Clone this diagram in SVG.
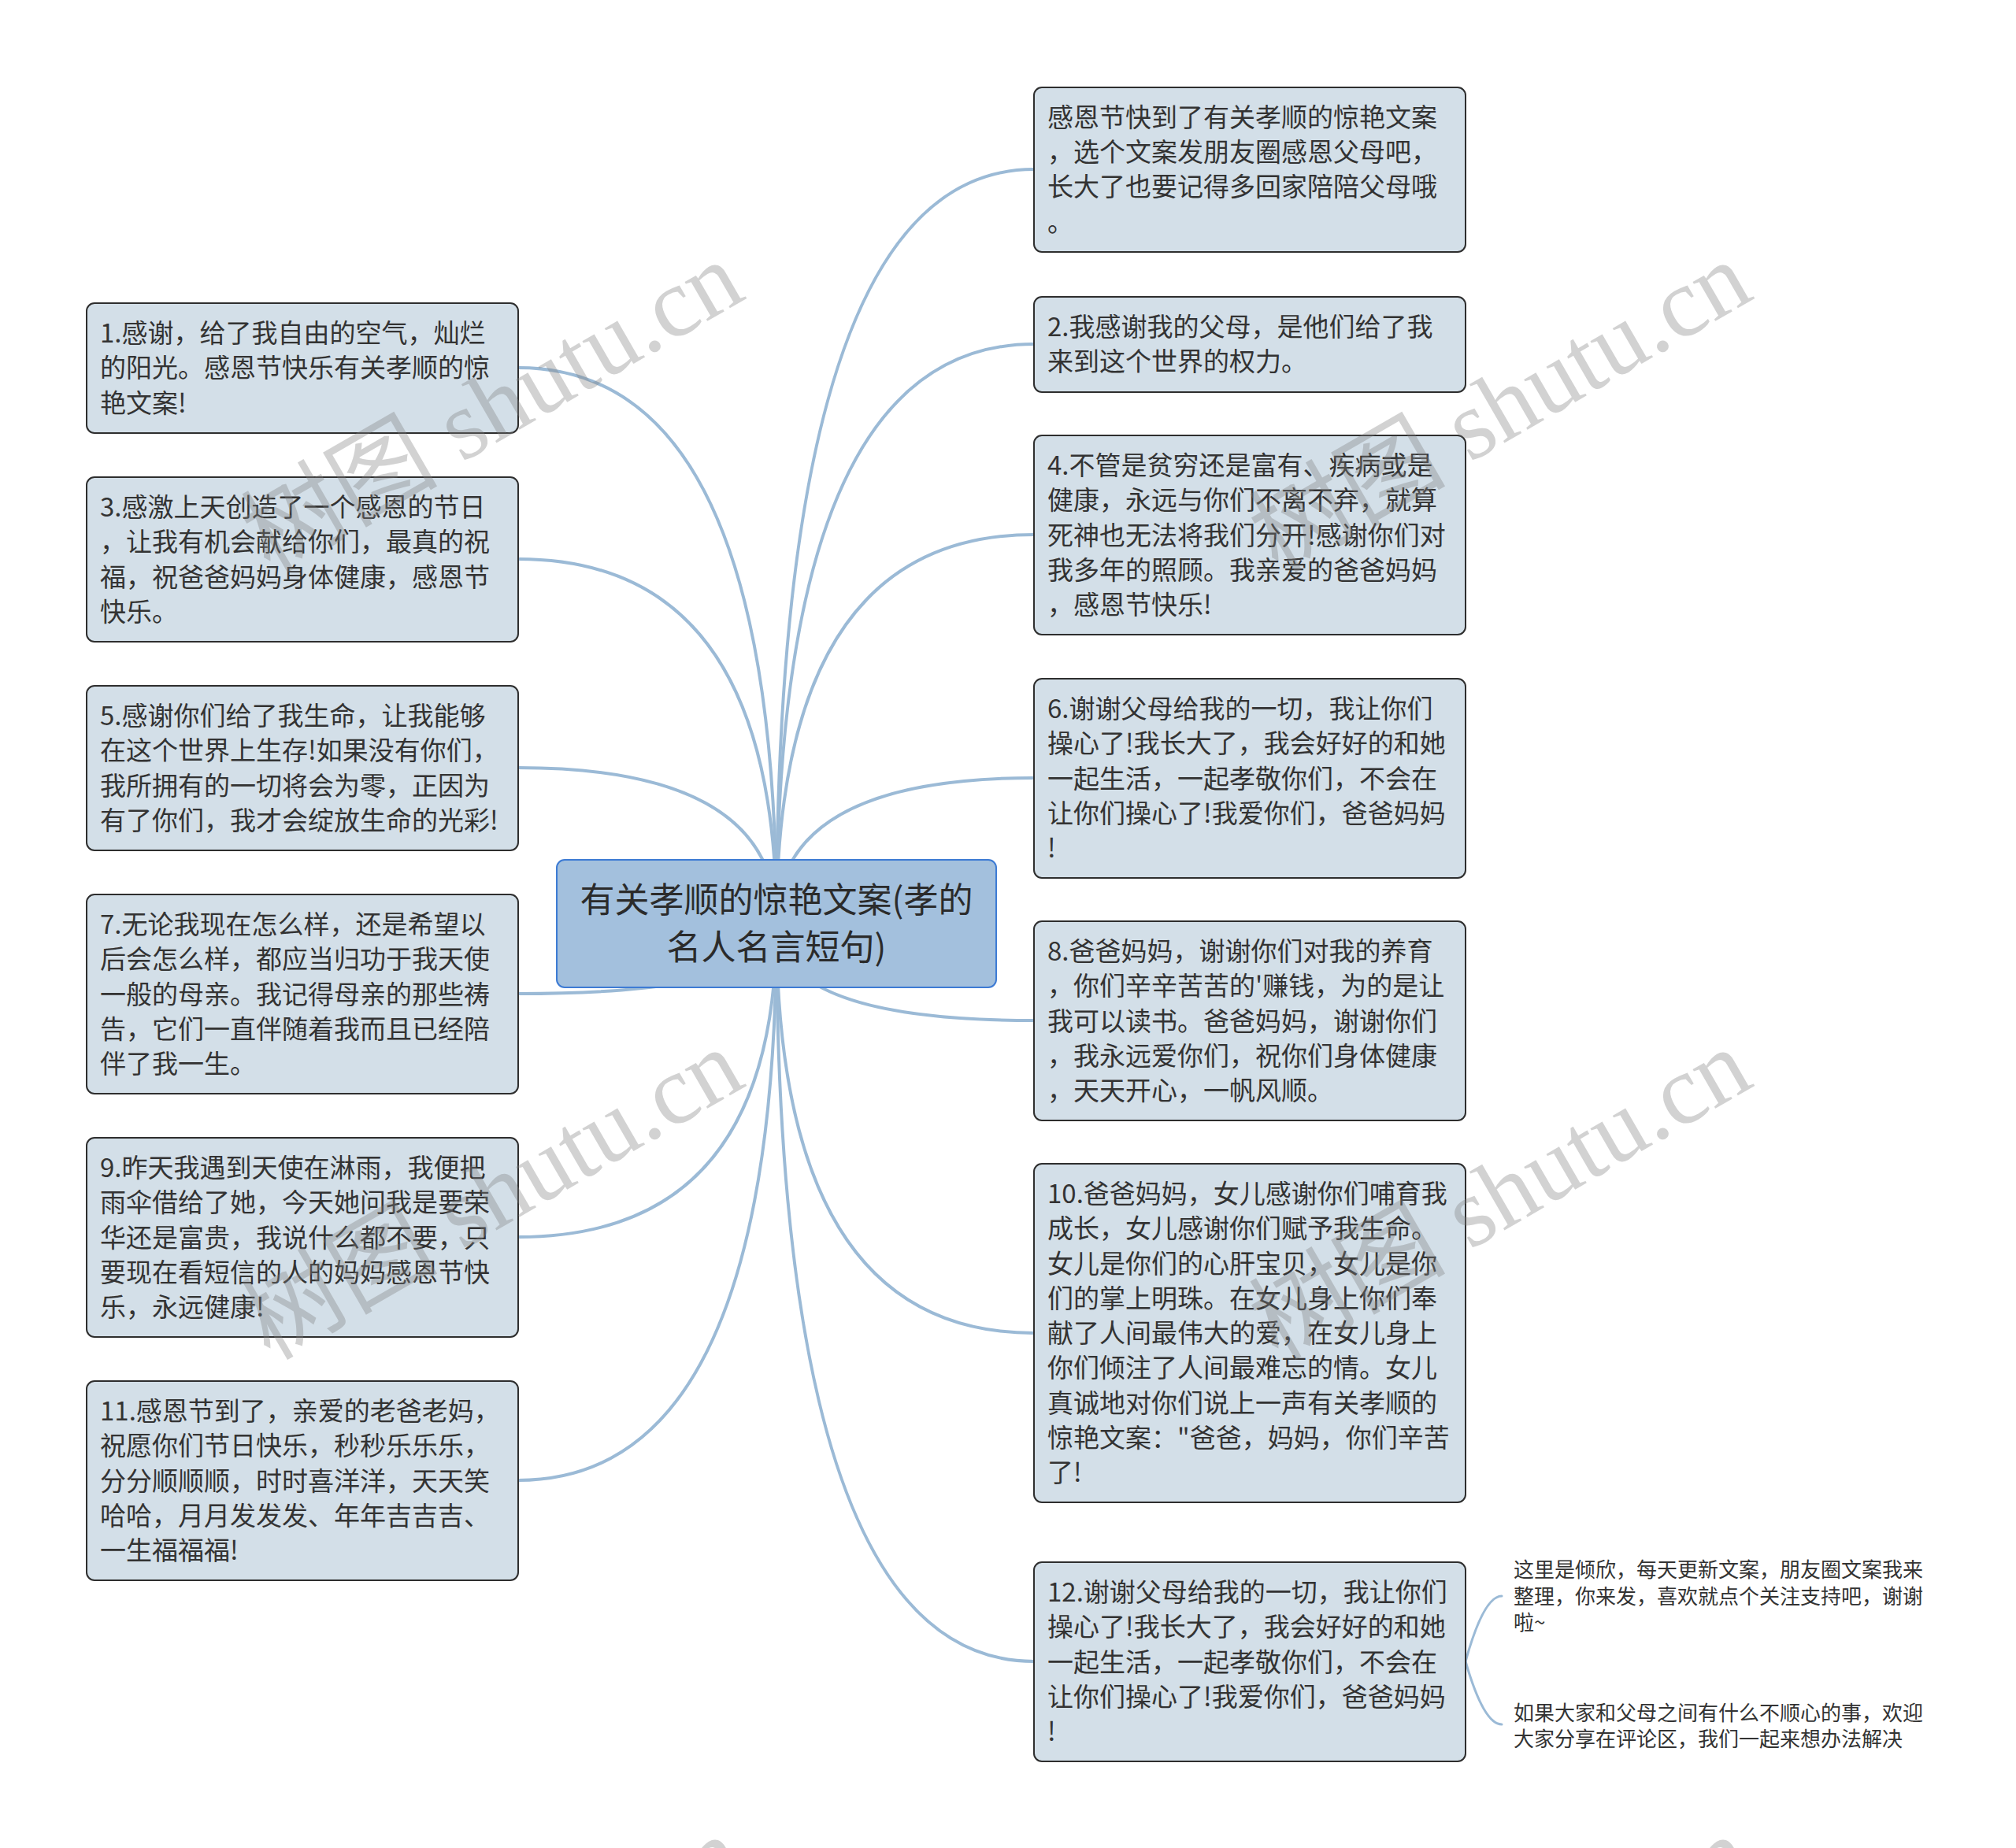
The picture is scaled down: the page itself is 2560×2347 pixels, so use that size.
<svg xmlns="http://www.w3.org/2000/svg" width="2560" height="2347" viewBox="0 0 2560 2347">
<style>
.box{fill:#d3dfe8;stroke:#2e2e2e;stroke-width:2}
.t{font-family:"Noto Sans CJK SC","Noto Sans",sans-serif;font-size:33px;fill:#333333}
.n{font-family:"Noto Sans CJK SC","Noto Sans",sans-serif;font-size:26px;fill:#333333}
.ct{font-family:"Noto Sans CJK SC","Noto Sans",sans-serif;font-size:44px;fill:#2b2b2b;text-anchor:middle}
.c{fill:none;stroke:#9bbad6;stroke-width:4;stroke-linecap:round}
.c2{fill:none;stroke:#9bbad6;stroke-width:3;stroke-linecap:round}
.wm{font-family:"Liberation Serif","Noto Sans CJK SC",serif;font-size:125px;fill:#7f7f7f;opacity:0.35;text-anchor:end}
</style>
<rect x="0" y="0" width="2560" height="2347" fill="#ffffff"/>
<g id="connectors">
<path class="c" d="M986,1173 Q986,215 1313,215"/>
<path class="c" d="M986,1173 Q986,437 1313,437"/>
<path class="c" d="M986,1173 Q986,679 1313,679"/>
<path class="c" d="M986,1173 Q986,988 1313,988"/>
<path class="c" d="M986,1173 Q986,1296 1313,1296"/>
<path class="c" d="M986,1173 Q986,1693 1313,1693"/>
<path class="c" d="M986,1173 Q986,2110 1313,2110"/>
<path class="c" d="M986,1173 Q986,467 658,467"/>
<path class="c" d="M986,1173 Q986,710 658,710"/>
<path class="c" d="M986,1173 Q986,975 658,975"/>
<path class="c" d="M986,1173 Q986,1262 658,1262"/>
<path class="c" d="M986,1173 Q986,1571 658,1571"/>
<path class="c" d="M986,1173 Q986,1880 658,1880"/>
<path class="c2" d="M1861,2110 Q1884,2027 1907,2027"/>
<path class="c2" d="M1861,2110 Q1884,2190 1907,2190"/>
</g>
<g id="center">
<rect x="707" y="1092" width="558" height="162" rx="10" fill="#a3c0dd" stroke="#3d7bd4" stroke-width="2"/>
<text class="ct"><tspan x="986" y="1159">有关孝顺的惊艳文案(孝的</tspan><tspan x="986" y="1219">名人名言短句)</tspan></text>
</g>
<g id="nA">
<rect class="box" x="1313" y="111" width="548" height="209" rx="10"/>
<text class="t"><tspan x="1330" y="161">感恩节快到了有关孝顺的惊艳文案</tspan><tspan x="1330" y="205">，选个文案发朋友圈感恩父母吧，</tspan><tspan x="1330" y="249">长大了也要记得多回家陪陪父母哦</tspan><tspan x="1330" y="294">。</tspan></text>
</g>
<g id="n2">
<rect class="box" x="1313" y="377" width="548" height="121" rx="10"/>
<text class="t"><tspan x="1330" y="427">2.我感谢我的父母，是他们给了我</tspan><tspan x="1330" y="471">来到这个世界的权力。</tspan></text>
</g>
<g id="n4">
<rect class="box" x="1313" y="553" width="548" height="253" rx="10"/>
<text class="t"><tspan x="1330" y="603">4.不管是贫穷还是富有、疾病或是</tspan><tspan x="1330" y="647">健康，永远与你们不离不弃，就算</tspan><tspan x="1330" y="692">死神也无法将我们分开!感谢你们对</tspan><tspan x="1330" y="736">我多年的照顾。我亲爱的爸爸妈妈</tspan><tspan x="1330" y="780">，感恩节快乐!</tspan></text>
</g>
<g id="n6">
<rect class="box" x="1313" y="862" width="548" height="253" rx="10"/>
<text class="t"><tspan x="1330" y="912">6.谢谢父母给我的一切，我让你们</tspan><tspan x="1330" y="956">操心了!我长大了，我会好好的和她</tspan><tspan x="1330" y="1001">一起生活，一起孝敬你们，不会在</tspan><tspan x="1330" y="1045">让你们操心了!我爱你们，爸爸妈妈</tspan><tspan x="1330" y="1089">!</tspan></text>
</g>
<g id="n8">
<rect class="box" x="1313" y="1170" width="548" height="253" rx="10"/>
<text class="t"><tspan x="1330" y="1220">8.爸爸妈妈，谢谢你们对我的养育</tspan><tspan x="1330" y="1264">，你们辛辛苦苦的'赚钱，为的是让</tspan><tspan x="1330" y="1309">我可以读书。爸爸妈妈，谢谢你们</tspan><tspan x="1330" y="1353">，我永远爱你们，祝你们身体健康</tspan><tspan x="1330" y="1397">，天天开心，一帆风顺。</tspan></text>
</g>
<g id="n10">
<rect class="box" x="1313" y="1478" width="548" height="430" rx="10"/>
<text class="t"><tspan x="1330" y="1528">10.爸爸妈妈，女儿感谢你们哺育我</tspan><tspan x="1330" y="1572">成长，女儿感谢你们赋予我生命。</tspan><tspan x="1330" y="1617">女儿是你们的心肝宝贝，女儿是你</tspan><tspan x="1330" y="1661">们的掌上明珠。在女儿身上你们奉</tspan><tspan x="1330" y="1705">献了人间最伟大的爱，在女儿身上</tspan><tspan x="1330" y="1749">你们倾注了人间最难忘的情。女儿</tspan><tspan x="1330" y="1794">真诚地对你们说上一声有关孝顺的</tspan><tspan x="1330" y="1838">惊艳文案：&quot;爸爸，妈妈，你们辛苦</tspan><tspan x="1330" y="1882">了!</tspan></text>
</g>
<g id="n12">
<rect class="box" x="1313" y="1984" width="548" height="253" rx="10"/>
<text class="t"><tspan x="1330" y="2034">12.谢谢父母给我的一切，我让你们</tspan><tspan x="1330" y="2078">操心了!我长大了，我会好好的和她</tspan><tspan x="1330" y="2123">一起生活，一起孝敬你们，不会在</tspan><tspan x="1330" y="2167">让你们操心了!我爱你们，爸爸妈妈</tspan><tspan x="1330" y="2211">!</tspan></text>
</g>
<g id="note1">
<text class="n"><tspan x="1922" y="2003">这里是倾欣，每天更新文案，朋友圈文案我来</tspan><tspan x="1922" y="2037">整理，你来发，喜欢就点个关注支持吧，谢谢</tspan><tspan x="1922" y="2070">啦~</tspan></text>
</g>
<g id="note2">
<text class="n"><tspan x="1922" y="2185">如果大家和父母之间有什么不顺心的事，欢迎</tspan><tspan x="1922" y="2218">大家分享在评论区，我们一起来想办法解决</tspan></text>
</g>
<g id="n1">
<rect class="box" x="110" y="385" width="548" height="165" rx="10"/>
<text class="t"><tspan x="127" y="435">1.感谢，给了我自由的空气，灿烂</tspan><tspan x="127" y="479">的阳光。感恩节快乐有关孝顺的惊</tspan><tspan x="127" y="524">艳文案!</tspan></text>
</g>
<g id="n3">
<rect class="box" x="110" y="606" width="548" height="209" rx="10"/>
<text class="t"><tspan x="127" y="656">3.感激上天创造了一个感恩的节日</tspan><tspan x="127" y="700">，让我有机会献给你们，最真的祝</tspan><tspan x="127" y="745">福，祝爸爸妈妈身体健康，感恩节</tspan><tspan x="127" y="789">快乐。</tspan></text>
</g>
<g id="n5">
<rect class="box" x="110" y="871" width="548" height="209" rx="10"/>
<text class="t"><tspan x="127" y="921">5.感谢你们给了我生命，让我能够</tspan><tspan x="127" y="965">在这个世界上生存!如果没有你们，</tspan><tspan x="127" y="1010">我所拥有的一切将会为零，正因为</tspan><tspan x="127" y="1054">有了你们，我才会绽放生命的光彩!</tspan></text>
</g>
<g id="n7">
<rect class="box" x="110" y="1136" width="548" height="253" rx="10"/>
<text class="t"><tspan x="127" y="1186">7.无论我现在怎么样，还是希望以</tspan><tspan x="127" y="1230">后会怎么样，都应当归功于我天使</tspan><tspan x="127" y="1275">一般的母亲。我记得母亲的那些祷</tspan><tspan x="127" y="1319">告，它们一直伴随着我而且已经陪</tspan><tspan x="127" y="1363">伴了我一生。</tspan></text>
</g>
<g id="n9">
<rect class="box" x="110" y="1445" width="548" height="253" rx="10"/>
<text class="t"><tspan x="127" y="1495">9.昨天我遇到天使在淋雨，我便把</tspan><tspan x="127" y="1539">雨伞借给了她，今天她问我是要荣</tspan><tspan x="127" y="1584">华还是富贵，我说什么都不要，只</tspan><tspan x="127" y="1628">要现在看短信的人的妈妈感恩节快</tspan><tspan x="127" y="1672">乐，永远健康!</tspan></text>
</g>
<g id="n11">
<rect class="box" x="110" y="1754" width="548" height="253" rx="10"/>
<text class="t"><tspan x="127" y="1804">11.感恩节到了，亲爱的老爸老妈，</tspan><tspan x="127" y="1848">祝愿你们节日快乐，秒秒乐乐乐，</tspan><tspan x="127" y="1893">分分顺顺顺，时时喜洋洋，天天笑</tspan><tspan x="127" y="1937">哈哈，月月发发发、年年吉吉吉、</tspan><tspan x="127" y="1981">一生福福福!</tspan></text>
</g>
<g id="watermarks">
<text class="wm" x="950" y="378" transform="rotate(-30 950 378)">树图 shutu.cn</text>
<text class="wm" x="2230" y="378" transform="rotate(-30 2230 378)">树图 shutu.cn</text>
<text class="wm" x="950" y="1378" transform="rotate(-30 950 1378)">树图 shutu.cn</text>
<text class="wm" x="2230" y="1378" transform="rotate(-30 2230 1378)">树图 shutu.cn</text>
<text class="wm" x="950" y="2378" transform="rotate(-30 950 2378)">树图 shutu.cn</text>
<text class="wm" x="2230" y="2378" transform="rotate(-30 2230 2378)">树图 shutu.cn</text>
</g>
</svg>
